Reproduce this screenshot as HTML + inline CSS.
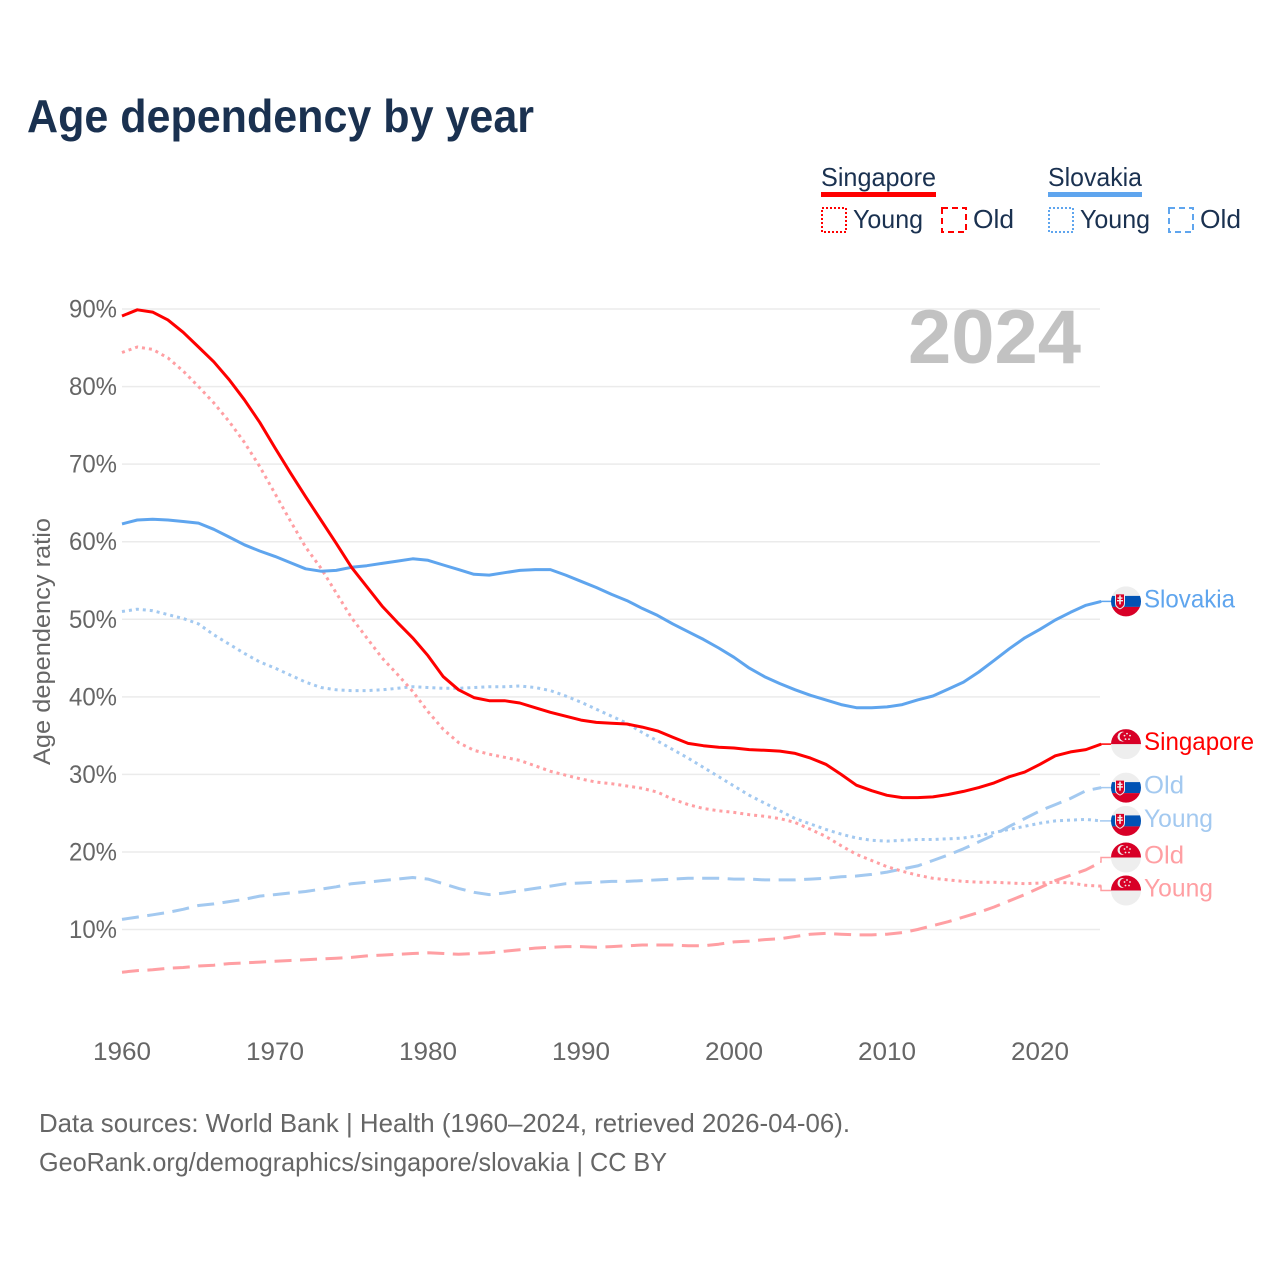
<!DOCTYPE html>
<html lang="en">
<head>
<meta charset="utf-8">
<title>Age dependency by year</title>
<style>
html,body{margin:0;padding:0;background:#fff;width:1280px;height:1280px;overflow:hidden}
svg{display:block}
text{font-family:"Liberation Sans",sans-serif}
</style>
</head>
<body>
<svg id="chart" xmlns="http://www.w3.org/2000/svg" width="1280" height="1280" viewBox="0 0 1280 1280">
  <defs>
    <clipPath id="flag-clip"><circle cx="0" cy="0" r="15"/></clipPath>
  </defs>
  <rect x="0" y="0" width="1280" height="1280" fill="#ffffff"/>
  <text x="27" y="132" font-size="46" font-weight="700" fill="#1a3150" textLength="507" lengthAdjust="spacingAndGlyphs">Age dependency by year</text>

  <g font-size="26" fill="#1a3150">
    <text x="821" y="186" textLength="115" lengthAdjust="spacingAndGlyphs">Singapore</text>
    <rect x="821" y="192" width="115" height="5" fill="#ff0000"/>
    <rect x="822" y="208" width="24" height="24" fill="none" stroke="#ff0000" stroke-width="2" stroke-dasharray="2 2"/>
    <text x="853" y="228" textLength="70" lengthAdjust="spacingAndGlyphs">Young</text>
    <rect x="942" y="208" width="24" height="24" fill="none" stroke="#ff0000" stroke-width="2" stroke-dasharray="6 4"/>
    <text x="973" y="228" textLength="41" lengthAdjust="spacingAndGlyphs">Old</text>
    <text x="1048" y="186" textLength="94" lengthAdjust="spacingAndGlyphs">Slovakia</text>
    <rect x="1048" y="192" width="94" height="5" fill="#5fa5ee"/>
    <rect x="1049" y="208" width="24" height="24" fill="none" stroke="#5fa5ee" stroke-width="2" stroke-dasharray="2 2"/>
    <text x="1080" y="228" textLength="70" lengthAdjust="spacingAndGlyphs">Young</text>
    <rect x="1169" y="208" width="24" height="24" fill="none" stroke="#5fa5ee" stroke-width="2" stroke-dasharray="6 4"/>
    <text x="1200" y="228" textLength="41" lengthAdjust="spacingAndGlyphs">Old</text>
  </g>

  <g id="grid"></g>
  <text x="908" y="363" font-size="76" font-weight="700" fill="#c2c2c2" textLength="173" lengthAdjust="spacingAndGlyphs">2024</text>
  <g id="y-ticks"></g>
  <g id="x-ticks"></g>
  <text transform="translate(50,765) rotate(-90)" font-size="24" fill="#666666" textLength="247" lengthAdjust="spacingAndGlyphs">Age dependency ratio</text>
  <g id="series"></g>
  <g id="end-labels"></g>

  <g font-size="26" fill="#666666">
    <text x="39" y="1132" textLength="811" lengthAdjust="spacingAndGlyphs">Data sources: World Bank | Health (1960–2024, retrieved 2026-04-06).</text>
    <text x="39" y="1171" textLength="628" lengthAdjust="spacingAndGlyphs">GeoRank.org/demographics/singapore/slovakia | CC BY</text>
  </g>
</svg>
<script>
const startYear = 1960;
const yTickValues = [10, 20, 30, 40, 50, 60, 70, 80, 90];
const xTickValues = [1960, 1970, 1980, 1990, 2000, 2010, 2020];

const singaporeTotal = [89.1,89.9,89.6,88.6,87,85.1,83.2,80.9,78.3,75.4,72.1,68.9,65.8,62.8,59.8,56.7,54.2,51.7,49.6,47.6,45.3,42.6,40.9,39.9,39.5,39.5,39.2,38.6,38,37.5,37,36.7,36.6,36.5,36.1,35.6,34.8,34,33.7,33.5,33.4,33.2,33.1,33,32.7,32.1,31.3,30,28.6,27.9,27.3,27,27,27.1,27.4,27.8,28.3,28.9,29.7,30.3,31.3,32.4,32.9,33.2,33.9];
const singaporeYoung = [84.4,85.1,84.8,83.7,82,80,77.9,75.5,72.8,69.7,66.2,62.7,59.3,56.6,53.4,50.2,47.6,45,42.9,40.7,38.1,35.8,34.1,33.1,32.6,32.2,31.8,31.1,30.4,29.9,29.4,29,28.8,28.5,28.2,27.7,26.8,26.1,25.6,25.3,25.1,24.8,24.6,24.3,23.8,22.9,22,20.8,19.7,18.9,18.1,17.5,17,16.6,16.4,16.2,16.1,16.1,16,15.9,16,16.1,16,15.7,15.6];
const singaporeOld = [4.5,4.7,4.8,5,5.1,5.3,5.4,5.6,5.7,5.8,5.9,6,6.1,6.2,6.3,6.4,6.6,6.7,6.8,6.9,7,6.9,6.8,6.9,7,7.2,7.4,7.6,7.7,7.8,7.8,7.7,7.8,7.9,8,8,8,7.9,7.9,8.1,8.4,8.5,8.7,8.8,9.1,9.4,9.5,9.4,9.3,9.3,9.4,9.6,10,10.5,11,11.6,12.2,12.9,13.7,14.5,15.4,16.3,17,17.7,18.7];
const slovakiaTotal = [62.3,62.8,62.9,62.8,62.6,62.4,61.6,60.6,59.6,58.8,58.1,57.3,56.5,56.2,56.3,56.7,56.9,57.2,57.5,57.8,57.6,57,56.4,55.8,55.7,56,56.3,56.4,56.4,55.7,54.9,54.1,53.2,52.4,51.4,50.5,49.4,48.4,47.4,46.3,45.1,43.7,42.6,41.7,40.9,40.2,39.6,39,38.6,38.6,38.7,39,39.6,40.1,41,41.9,43.2,44.7,46.2,47.6,48.7,49.9,50.9,51.8,52.3];
const slovakiaYoung = [51,51.3,51.1,50.6,50.1,49.4,48,46.8,45.6,44.5,43.7,42.8,41.9,41.2,40.9,40.8,40.8,40.9,41.1,41.3,41.2,41.1,41.1,41.2,41.3,41.3,41.4,41.2,40.8,40.1,39.3,38.4,37.5,36.6,35.4,34.3,33.2,32.1,30.9,29.7,28.5,27.3,26.3,25.3,24.3,23.6,22.9,22.3,21.8,21.5,21.4,21.5,21.6,21.6,21.7,21.8,22.1,22.5,22.9,23.3,23.7,24,24.1,24.2,24];
const slovakiaOld = [11.3,11.6,11.9,12.2,12.6,13.1,13.3,13.6,13.9,14.3,14.5,14.7,14.9,15.2,15.5,15.9,16.1,16.3,16.5,16.7,16.5,15.9,15.3,14.8,14.5,14.7,15,15.3,15.6,15.9,16,16.1,16.2,16.2,16.3,16.4,16.5,16.6,16.6,16.6,16.5,16.5,16.4,16.4,16.4,16.5,16.6,16.8,16.9,17.1,17.4,17.8,18.2,18.9,19.6,20.4,21.3,22.2,23.3,24.3,25.3,26.1,26.9,27.9,28.3];

const NS = 'http://www.w3.org/2000/svg';
function xScale(year) { return 122 + (year - 1960) * 15.3; }
function yScale(value) { return 929.5 - (value - 10) * 7.756; }
function make(tag, attrs, parent, content) {
  const el = document.createElementNS(NS, tag);
  Object.keys(attrs).forEach(function (k) { el.setAttribute(k, attrs[k]); });
  if (content !== undefined) el.textContent = content;
  parent.appendChild(el);
  return el;
}

const gridGroup = document.getElementById('grid');
const yTickGroup = document.getElementById('y-ticks');
const xTickGroup = document.getElementById('x-ticks');
yTickValues.forEach(function (v) {
  const line = make('line', {x1: 122, x2: 1100, y1: yScale(v), y2: yScale(v), stroke: '#ebebeb', 'stroke-width': 1.5}, gridGroup);
  
  
  const label = make('text', {x: 117, y: yScale(v) + 8.5, 'text-anchor': 'end', 'font-size': 25, fill: '#666666', textLength: 48, lengthAdjust: 'spacingAndGlyphs'}, yTickGroup, v + '%');
  
  
});
xTickValues.forEach(function (y) {
  const label = make('text', {x: xScale(y), y: 1060, 'text-anchor': 'middle', 'font-size': 25, fill: '#666666', textLength: 58, lengthAdjust: 'spacingAndGlyphs'}, xTickGroup, String(y));
  
  
});

const seriesList = [
  {key: 'slovakia-young', values: slovakiaYoung, color: '#a3c9f0', dash: '3 4', label: 'Young', flag: 'sk', width: 3},
  {key: 'slovakia-old', values: slovakiaOld, color: '#a3c9f0', dash: '17 8.5', label: 'Old', flag: 'sk', width: 3},
  {key: 'singapore-young', values: singaporeYoung, color: '#ff9fa3', dash: '3 4', label: 'Young', flag: 'sg', width: 3},
  {key: 'singapore-old', values: singaporeOld, color: '#ff9fa3', dash: '17 8.5', label: 'Old', flag: 'sg', width: 3},
  {key: 'slovakia-total', values: slovakiaTotal, color: '#5fa5ee', dash: '', label: 'Slovakia', flag: 'sk', width: 3},
  {key: 'singapore-total', values: singaporeTotal, color: '#ff0000', dash: '', label: 'Singapore', flag: 'sg', width: 3}
];
const labelWidths = {Young: 69, Old: 40, Slovakia: 91, Singapore: 110};

const seriesGroup = document.getElementById('series');
seriesList.forEach(function (s) {
  const d = s.values.map(function (v, i) {
    return (i ? 'L' : 'M') + xScale(startYear + i).toFixed(1) + ' ' + yScale(v).toFixed(1);
  }).join(' ');
  const attrs = {d: d, fill: 'none', stroke: s.color, 'stroke-width': s.width, 'stroke-linejoin': 'round'};
  if (s.dash) attrs['stroke-dasharray'] = s.dash;
  const path = make('path', attrs, seriesGroup);
  
  
});

/* place end labels, pushing apart any that would overlap */
const placed = seriesList.map(function (s) {
  const endY = yScale(s.values[s.values.length - 1]);
  return {s: s, endY: endY, y: endY};
}).sort(function (a, b) { return a.endY - b.endY; });
for (let pass = 0; pass < 20; pass++) {
  for (let i = 1; i < placed.length; i++) {
    const gap = placed[i].y - placed[i - 1].y;
    if (gap < 33) {
      const shift = (33 - gap) / 2;
      placed[i].y += shift;
      placed[i - 1].y -= shift;
    }
  }
}

function drawFlag(parent, code, y) {
  const g = make('g', {transform: 'translate(1126,' + y.toFixed(1) + ')', 'clip-path': 'url(#flag-clip)'}, parent);
  
  
  if (code === 'sk') {
    make('rect', {x: -15, y: -15, width: 30, height: 30, fill: '#eeeeee'}, g);
    make('rect', {x: -15, y: -5.5, width: 30, height: 11, fill: '#0052b4'}, g);
    make('rect', {x: -15, y: 5.5, width: 30, height: 10, fill: '#d80027'}, g);
    make('path', {d: 'M-11 -8 H-1 V2 Q-1 6 -6 8 Q-11 6 -11 2 Z', fill: '#eeeeee'}, g);
    make('path', {d: 'M-10 -7 H-2 V2 Q-2 5 -6 7 Q-10 5 -10 2 Z', fill: '#d80027'}, g);
    make('path', {d: 'M-6.8 -6 H-5.2 V-4 H-3.5 V-2.6 H-5.2 V-1.4 H-3 V0 H-5.2 V3 H-6.8 V0 H-9 V-1.4 H-6.8 V-2.6 H-8.5 V-4 H-6.8 Z', fill: '#eeeeee'}, g);
  } else {
    make('rect', {x: -15, y: -15, width: 30, height: 30, fill: '#eeeeee'}, g);
    make('rect', {x: -15, y: -15, width: 30, height: 15, fill: '#d80027'}, g);
    make('circle', {cx: -3.5, cy: -7.5, r: 5, fill: '#eeeeee'}, g);
    make('circle', {cx: -1.7, cy: -7.5, r: 4.6, fill: '#d80027'}, g);
    make('circle', {cx: 1, cy: -10.5, r: 0.9, fill: '#eeeeee'}, g);
    make('circle', {cx: 4, cy: -8.5, r: 0.9, fill: '#eeeeee'}, g);
    make('circle', {cx: 3, cy: -5, r: 0.9, fill: '#eeeeee'}, g);
    make('circle', {cx: -0.5, cy: -5, r: 0.9, fill: '#eeeeee'}, g);
    make('circle', {cx: -1.5, cy: -8.5, r: 0.9, fill: '#eeeeee'}, g);
  }
}

const labelGroup = document.getElementById('end-labels');
placed.forEach(function (p) {
  const s = p.s;
  const connector = make('path', {d: 'M1100 ' + p.endY.toFixed(1) + ' H1101 L1101 ' + p.y.toFixed(1) + ' H1112', fill: 'none', stroke: s.color, 'stroke-width': 1.5}, labelGroup);
  
  
  drawFlag(labelGroup, s.flag, p.y);
  const text = make('text', {x: 1144, y: p.y + 6, 'font-size': 25, fill: s.color, textLength: labelWidths[s.label], lengthAdjust: 'spacingAndGlyphs'}, labelGroup, s.label);
  
  
});
</script>
</body>
</html>
